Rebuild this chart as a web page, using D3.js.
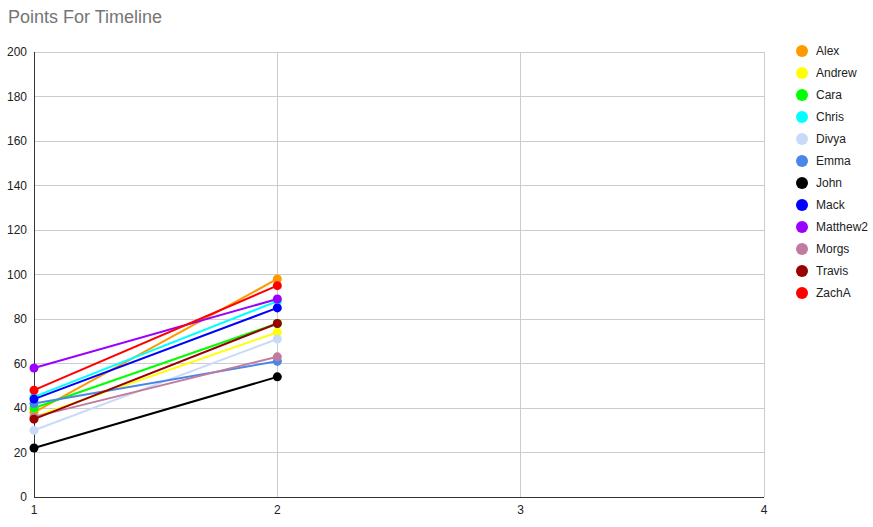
<!DOCTYPE html>
<html><head><meta charset="utf-8">
<script src="https://cdn.jsdelivr.net/npm/d3@7"></script>
<style>body{margin:0;background:#fff;font-family:Arial,"Liberation Sans",sans-serif}</style>
</head><body><svg id="c" width="873" height="527"></svg>
<script>
const xValues = [1, 2];
const names = ["Alex","Andrew","Cara","Chris","Divya","Emma","John","Mack","Matthew2","Morgs","Travis","ZachA"];
const colors = ["#ff9900","#ffff00","#00ff00","#00ffff","#c9daf8","#4a86e8","#000000","#0000ff","#9900ff","#c27ba0","#990000","#ff0000"];
const alex = [38, 98];
const andrew = [36, 74];
const cara = [40, 78];
const chris = [45, 88];
const divya = [30, 71];
const emma = [42, 61];
const john = [22, 54];
const mack = [44, 85];
const matthew2 = [58, 89];
const morgs = [36, 63];
const travis = [35, 78];
const zachA = [48, 95];
const seriesValues = [alex, andrew, cara, chris, divya, emma, john, mack, matthew2, morgs, travis, zachA];
const yTicks = [0,20,40,60,80,100,120,140,160,180,200];
const xTicks = [1,2,3,4];

const svg = d3.select("#c");
const x = d3.scaleLinear().domain([1,4]).range([34,764]);
const y = d3.scaleLinear().domain([0,200]).range([497,52]);

svg.append("text").attr("x",8).attr("y",23).attr("font-size",18).attr("fill","#757575").text("Points For Timeline");

const g = svg.append("g");
g.selectAll("line.h").data(yTicks.filter(d=>d>0)).join("line")
 .attr("x1",34).attr("x2",764).attr("y1",d=>y(d)).attr("y2",d=>y(d)).attr("stroke","#cccccc").attr("stroke-width",1).attr("shape-rendering","crispEdges");
g.selectAll("line.v").data(xTicks.filter(d=>d>1)).join("line")
 .attr("x1",d=>x(d)).attr("x2",d=>x(d)).attr("y1",52).attr("y2",497).attr("stroke","#cccccc").attr("stroke-width",1).attr("shape-rendering","crispEdges");

svg.selectAll("text.yt").data(yTicks).join("text").attr("class","yt")
 .attr("x",27).attr("y",d=>y(d)+4).attr("text-anchor","end").attr("font-size",12).attr("fill","#222").text(d=>d);
svg.selectAll("text.xt").data(xTicks).join("text").attr("class","xt")
 .attr("x",d=>x(d)).attr("y",514).attr("text-anchor","middle").attr("font-size",12).attr("fill","#222").text(d=>d);

svg.append("line").attr("x1",34).attr("x2",764).attr("y1",497).attr("y2",497).attr("stroke","#333").attr("stroke-width",1).attr("shape-rendering","crispEdges");
svg.append("line").attr("x1",34).attr("x2",34).attr("y1",52).attr("y2",497).attr("stroke","#333").attr("stroke-width",1).attr("shape-rendering","crispEdges");

const line = d3.line().x((d,i)=>x(xValues[i])).y(d=>y(d));
seriesValues.forEach((vals,k)=>{
  const s = svg.append("g");
  s.append("path").attr("d",line(vals)).attr("fill","none").attr("stroke",colors[k]).attr("stroke-width",2);
  s.selectAll("circle").data(vals).join("circle").attr("cx",(d,i)=>x(xValues[i])).attr("cy",d=>y(d)).attr("r",4.5).attr("fill",colors[k]);
});

const leg = svg.append("g");
names.forEach((n,i)=>{
  leg.append("circle").attr("cx",802).attr("cy",51+i*22).attr("r",6).attr("fill",colors[i]);
  leg.append("text").attr("x",816).attr("y",55+i*22).attr("font-size",12).attr("fill","#222").text(n);
});
</script></body></html>
